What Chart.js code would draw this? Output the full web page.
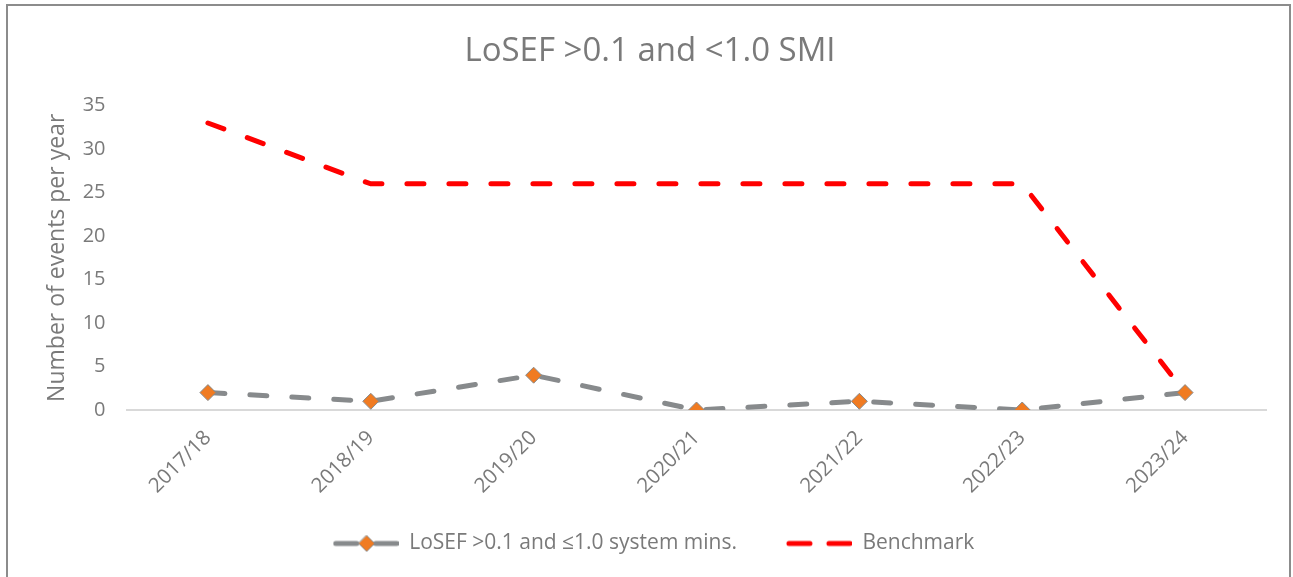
<!DOCTYPE html>
<html>
<head>
<meta charset="utf-8">
<script src="https://cdn.jsdelivr.net/npm/chart.js@4"></script>
<style>
  html, body { margin: 0; padding: 0; background: #ffffff; }
  #wrap { position: relative; width: 1293px; height: 577px; }
</style>
</head>
<body>
<div id="wrap"><canvas id="chart" width="1293" height="577"></canvas></div>
<script>
// Financial years on the category axis
const years = ['2017/18', '2018/19', '2019/20', '2020/21', '2021/22', '2022/23', '2023/24'];
// Recorded events per year
const eventCounts = [2, 1, 4, 0, 1, 0, 2];
// Benchmark events per year
const benchmarkCounts = [33, 26, 26, 26, 26, 26, 2];
// Y axis range and step
const yTicks = { min: 0, max: 35, step: 5 };

const seriesNames = ['LoSEF >0.1 and \u22641.0 system mins.', 'Benchmark'];

const GREY = '#878a8c';
const ORANGE = '#f07b22';
const RED = '#ff0000';
const TEXT = '#7a7a7a';
const FONT = "'Open Sans', 'DejaVu Sans', sans-serif";

// Legend swatch: dashed line with optional diamond marker
function swatch(color, withMarker) {
  const c = document.createElement('canvas');
  c.width = 66; c.height = 18;
  const g = c.getContext('2d');
  g.strokeStyle = color;
  g.lineWidth = 5;
  g.lineCap = 'round';
  g.beginPath();
  g.moveTo(3, 9); g.lineTo(24, 9);
  g.moveTo(43, 9); g.lineTo(64, 9);
  g.stroke();
  if (withMarker) {
    g.fillStyle = ORANGE;
    g.strokeStyle = GREY;
    g.lineWidth = 1;
    g.beginPath();
    g.moveTo(34, 1); g.lineTo(42, 9); g.lineTo(34, 17); g.lineTo(26, 9); g.closePath();
    g.fill(); g.stroke();
  }
  return c;
}

// Outer frame around the whole chart
const framePlugin = {
  id: 'frame',
  afterDraw(chart) {
    const ctx = chart.ctx;
    ctx.save();
    ctx.strokeStyle = '#8c8c8c';
    ctx.lineWidth = 2;
    ctx.strokeRect(7, 5, 1283, 600);
    ctx.restore();
  }
};

// Centre title and legend on the full frame width rather than the padded area
const fullWidthBoxes = {
  id: 'fullWidthBoxes',
  afterLayout(chart) {
    if (chart.legend) {
      chart.legend.left = 0;
      chart.legend.right = 1307;
      chart.legend.top -= 12;
      chart.legend.bottom -= 12;
    }
    if (chart.titleBlock) {
      chart.titleBlock.left = 0;
      chart.titleBlock.right = 1300;
    }
  }
};

new Chart(document.getElementById('chart'), {
  type: 'line',
  data: {
    labels: years,
    datasets: [
      {
        label: seriesNames[0],
        data: eventCounts,
        borderColor: GREY,
        borderWidth: 5,
        borderDash: [17, 25],
        borderCapStyle: 'round',
        pointStyle: 'rectRot',
        pointRadius: 8,
        pointHoverRadius: 8,
        pointBackgroundColor: ORANGE,
        pointBorderColor: GREY,
        pointBorderWidth: 1,
        tension: 0,
        order: 0
      },
      {
        label: seriesNames[1],
        data: benchmarkCounts,
        borderColor: RED,
        borderWidth: 5,
        borderDash: [17, 25],
        borderCapStyle: 'round',
        pointRadius: 0,
        tension: 0,
        order: 1
      }
    ]
  },
  options: {
    responsive: false,
    animation: false,
    layout: { padding: { top: 0, right: 26.5, bottom: 1, left: 0 } },
    plugins: {
      title: {
        display: true,
        text: 'LoSEF >0.1 and <1.0 SMI',
        color: TEXT,
        font: { family: FONT, size: 33, weight: 'normal' },
        padding: { top: 32.2, bottom: 33.8 }
      },
      legend: {
        position: 'bottom',
        labels: {
          usePointStyle: true,
          pointStyleWidth: 66,
          padding: 49,
          color: TEXT,
          font: { family: FONT, size: 21 },
          generateLabels(chart) {
            return chart.data.datasets.map((ds, i) => ({
              text: ds.label,
              fillStyle: ds.borderColor,
              strokeStyle: ds.borderColor,
              lineWidth: 0,
              pointStyle: swatch(ds.borderColor, i === 0),
              hidden: false,
              datasetIndex: i,
              fontColor: TEXT
            }));
          }
        }
      },
      tooltip: { enabled: false }
    },
    scales: {
      x: {
        offset: true,
        grid: { display: false, drawTicks: false, offset: true },
        border: { display: true, color: '#d9d9d9', width: 2 },
        ticks: {
          color: TEXT,
          font: { family: FONT, size: 20.5 },
          minRotation: 45,
          maxRotation: 45,
          padding: 16
        },
        afterFit(scale) { scale.height = 86; }
      },
      y: {
        min: yTicks.min,
        max: yTicks.max,
        grid: { display: false, drawTicks: false },
        border: { display: false },
        ticks: {
          stepSize: yTicks.step,
          color: TEXT,
          font: { family: FONT, size: 20 },
          padding: 21
        },
        title: {
          display: true,
          text: 'Number of events per year',
          color: TEXT,
          font: { family: FONT, size: 23 },
          padding: { top: 44, bottom: 0 }
        },
        afterFit(scale) { scale.width = 126.5; }
      }
    }
  },
  plugins: [framePlugin, fullWidthBoxes]
});
</script>
</body>
</html>
